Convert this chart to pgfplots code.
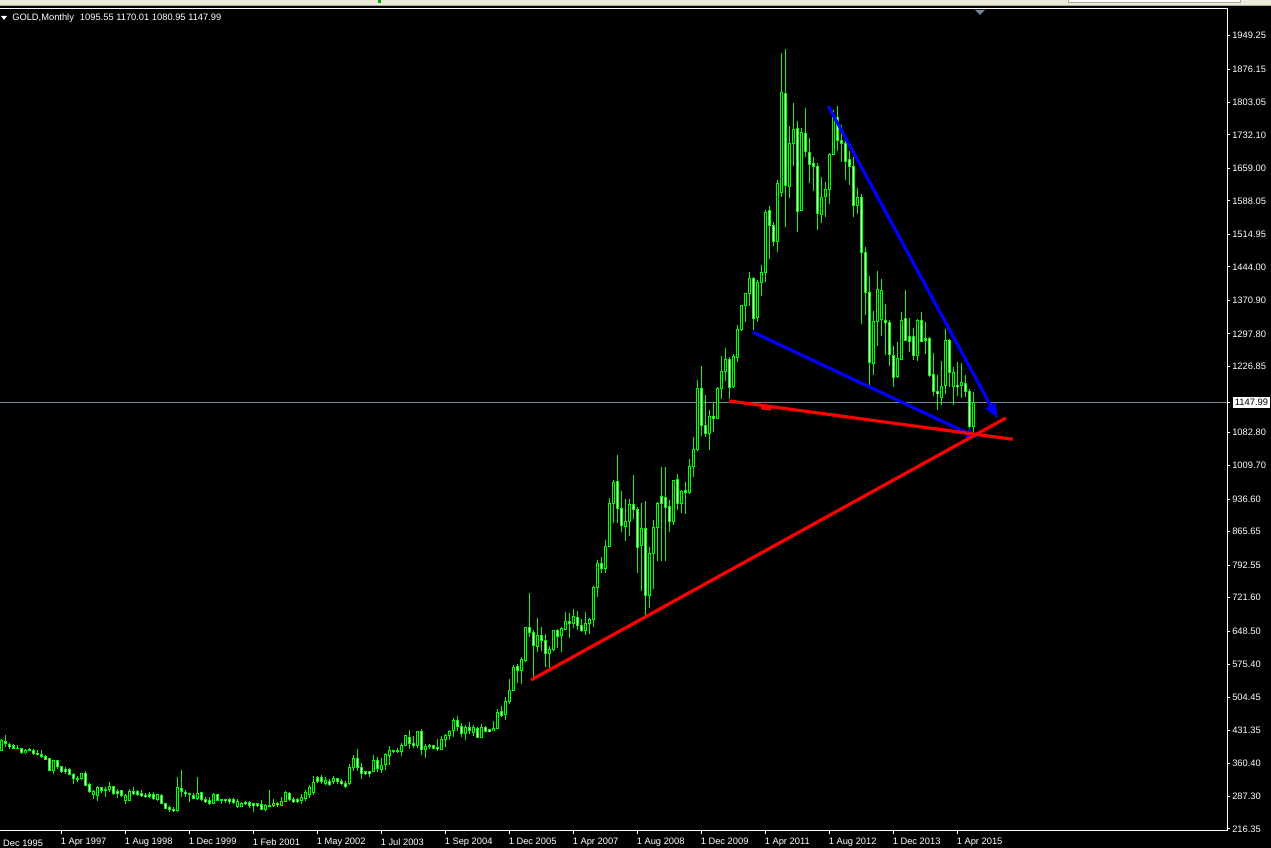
\documentclass[border=0pt]{standalone}
\usepackage{fontspec}
\setmainfont{Liberation Sans}
\usepackage{pgfplots}
\usepackage{pgfplotstable}
\pgfplotsset{compat=1.18}
\usetikzlibrary{arrows.meta}
\definecolor{Bar}{HTML}{00FF00}
\definecolor{Slate}{HTML}{778899}
\definecolor{Tool}{HTML}{ECE9D8}
\definecolor{ToolLine}{HTML}{ACA899}
\definecolor{Trend}{HTML}{FF0000}
\definecolor{Fall}{HTML}{0000FF}
% bar index, open, high, low, close
\pgfplotstableread{
x o h l c
0 388 413 388 409
1 408 422 396 403
2 401 405 391 396
3 398 401 391 393
4 393 400 391 392
5 392 393 381 383
6 383 391 381 388
7 389 393 386 388
8 388 391 379 381
9 382 389 377 379
10 380 388 371 374
11 374 377 367 369
12 371 371 344 345
13 345 366 337 365
14 365 367 347 352
15 352 355 338 341
16 347 351 337 341
17 347 350 334 335
18 336 338 315 326
19 326 331 319 326
20 326 339 323 338
21 337 343 310 312
22 314 317 296 298
23 291 302 281 299
24 289 310 278 306
25 306 309 294 300
26 303 307 286 301
27 302 319 297 310
28 310 310 291 294
29 299 303 284 294
30 301 302 287 289
31 278 293 271 289
32 278 303 278 299
33 299 308 291 293
34 298 302 288 292
35 294 302 286 289
36 290 296 283 287
37 291 297 283 288
38 291 297 280 282
39 280 293 278 291
40 289 292 270 271
41 272 273 259 262
42 264 267 254 259
43 260 265 254 256
44 256 330 254 308
45 304 345 286 298
46 297 301 287 293
47 294 294 275 293
48 290 294 281 284
49 284 330 280 294
50 295 297 277 280
51 281 286 274 276
52 278 286 269 272
53 273 295 271 292
54 291 293 277 278
55 280 281 272 280
56 281 282 274 278
57 280 284 271 276
58 280 283 272 275
59 266 281 262 277
60 265 276 264 273
61 275 278 268 271
62 275 278 262 267
63 271 272 254 268
64 271 272 264 267
65 270 280 258 260
66 258 271 256 267
67 267 302 264 268
68 267 281 265 273
69 273 275 265 269
70 267 286 267 277
71 277 299 275 297
72 294 297 278 280
73 281 286 273 276
74 281 284 273 276
75 278 293 271 286
76 282 301 277 295
77 291 312 284 306
78 297 332 291 317
79 329 331 316 321
80 329 334 315 319
81 316 329 313 323
82 319 326 310 313
83 319 331 315 327
84 326 327 315 319
85 320 325 312 315
86 316 321 306 309
87 315 358 312 351
88 350 377 344 371
89 371 391 344 350
90 351 361 326 337
91 341 342 334 337
92 341 342 330 337
93 342 377 341 366
94 366 373 341 348
95 347 371 339 355
96 357 382 345 378
97 377 397 356 388
98 388 389 383 386
99 387 393 383 385
100 385 404 376 399
101 398 421 398 420
102 417 433 391 404
103 404 420 393 398
104 398 430 393 430
105 430 435 378 390
106 389 401 372 397
107 398 403 392 396
108 398 400 391 393
109 395 413 387 392
110 391 420 390 412
111 412 423 396 421
112 420 433 411 430
113 431 458 417 454
114 454 463 431 440
115 441 447 418 425
116 425 444 411 439
117 438 450 424 431
118 428 444 419 437
119 436 439 416 417
120 417 446 416 438
121 438 441 428 429
122 433 433 428 429
123 431 452 430 436
124 436 478 435 471
125 472 484 460 465
126 467 505 454 495
127 494 545 490 519
128 519 574 518 570
129 572 577 535 562
130 562 592 533 586
131 584 658 582 657
132 657 732 636 645
133 646 650 545 617
134 615 677 603 638
135 638 658 604 628
136 628 642 570 599
137 599 615 565 609
138 608 651 606 650
139 650 653 612 636
140 639 658 603 655
141 653 690 651 670
142 670 689 634 665
143 666 697 655 681
144 678 693 651 660
145 661 676 647 650
146 650 690 641 666
147 665 678 642 674
148 674 746 658 744
149 744 804 722 797
150 796 810 775 785
151 785 848 775 833
152 833 939 833 928
153 928 979 885 973
154 975 1033 884 917
155 917 955 864 879
156 877 937 846 888
157 888 936 857 925
158 925 989 894 914
159 914 920 775 832
160 835 928 737 873
161 873 933 682 726
162 727 832 700 818
163 818 891 741 875
164 875 930 802 928
165 943 1007 802 927
166 941 1007 802 919
167 921 935 866 888
168 888 979 880 978
169 979 992 913 928
170 927 957 906 954
171 956 975 905 951
172 951 1024 947 1008
173 1008 1072 986 1046
174 1046 1197 1041 1179
175 1179 1228 1075 1098
176 1098 1164 1072 1080
177 1080 1131 1045 1118
178 1118 1147 1084 1113
179 1113 1182 1111 1179
180 1179 1249 1156 1215
181 1215 1267 1195 1242
182 1242 1248 1156 1180
183 1182 1253 1180 1249
184 1247 1316 1236 1308
185 1308 1361 1304 1360
186 1359 1387 1324 1386
187 1386 1433 1359 1419
188 1418 1421 1306 1332
189 1333 1415 1324 1410
190 1410 1448 1380 1432
191 1431 1568 1412 1563
192 1568 1577 1461 1534
193 1535 1541 1490 1499
194 1499 1634 1477 1626
195 1606 1911 1597 1825
196 1823 1920 1532 1621
197 1619 1752 1595 1714
198 1714 1801 1664 1744
199 1747 1763 1521 1565
200 1568 1747 1567 1738
201 1736 1790 1685 1696
202 1693 1726 1627 1667
203 1670 1684 1610 1663
204 1664 1671 1525 1560
205 1558 1640 1539 1596
206 1597 1629 1554 1613
207 1613 1692 1581 1690
208 1689 1787 1688 1771
209 1771 1795 1697 1720
210 1720 1754 1672 1713
211 1714 1718 1634 1674
212 1679 1696 1623 1663
213 1664 1684 1553 1578
214 1578 1616 1560 1596
215 1596 1603 1319 1475
216 1475 1488 1338 1388
217 1388 1424 1185 1235
218 1233 1348 1208 1325
219 1324 1435 1271 1395
220 1330 1418 1292 1393
221 1327 1363 1252 1322
222 1323 1328 1228 1252
223 1250 1271 1182 1203
224 1204 1279 1202 1244
225 1241 1346 1241 1327
226 1332 1394 1282 1284
227 1292 1332 1259 1282
228 1292 1310 1241 1250
229 1250 1330 1239 1327
230 1327 1346 1281 1282
231 1288 1323 1253 1283
232 1288 1290 1204 1207
233 1209 1255 1161 1172
234 1172 1208 1132 1167
235 1158 1239 1142 1183
236 1185 1308 1166 1284
237 1284 1286 1181 1213
238 1182 1226 1142 1214
239 1186 1237 1161 1182
240 1185 1235 1157 1192
241 1190 1208 1159 1172
242 1172 1177 1091 1095
243 1095.55 1170.01 1080.95 1147.99
}\gold
\pgfplotsset{
  bars/.style 2 args={draw=none,mark=none,forget plot,
    error bars/y dir=both,error bars/y explicit,error bars/error mark=none,
    error bars/error bar style={line width=#1,color=#2}},
}
\begin{document}
\begin{tikzpicture}
% 1 px of the screenshot = 0.75pt
\useasboundingbox (0,0) rectangle (953.25pt,636pt);
\fill[black] (0,0) rectangle (953.25pt,636pt);
\fill[Tool] (0,632.25pt) rectangle (953.25pt,636pt);
\fill[ToolLine] (0,631.5pt) rectangle (953.25pt,632.25pt);
\fill[Bar!70!black] (283.5pt,633.75pt) rectangle (286pt,636pt);
\fill[white] (801pt,634pt) rectangle (930pt,636pt);
\draw[ToolLine,line width=.5pt] (801pt,636pt) -- (801pt,634pt) -- (930pt,634pt) -- (930pt,636pt);
\begin{axis}[
  at={(-1.5pt,12.75pt)},anchor=south west,
  scale only axis,width=921.75pt,height=616.5pt,
  xmin=-0.875,xmax=306.375,ymin=211.98,ymax=2007.23,
  axis line style={white,line width=.75pt},
  tick style={white,line width=.75pt},
  major tick length=2.25pt,tick align=outside,
  xtick pos=bottom,ytick pos=right,yticklabel pos=right,
  ticklabel style={font=\fontsize{7}{8}\selectfont,text=white},
  xtick={15,31,47,63,79,95,111,127,143,159,175,191,207,223,239},
  xticklabels={1 Apr 1997,1 Aug 1998,1 Dec 1999,1 Feb 2001,1 May 2002,1 Jul 2003,1 Sep 2004,1 Dec 2005,1 Apr 2007,1 Aug 2008,1 Dec 2009,1 Apr 2011,1 Aug 2012,1 Dec 2013,1 Apr 2015},
  xticklabel style={anchor=north west,inner sep=0pt,xshift=-.75pt,yshift=-3pt},
  extra x ticks={0},extra x tick labels={Dec 1995},
  extra x tick style={major tick length=0pt,xticklabel style={anchor=north west,inner sep=0pt,xshift=1.75pt,yshift=-3.75pt}},
  ytick={216.35,287.30,360.40,431.35,504.45,575.40,648.50,721.60,792.55,865.65,936.60,1009.70,1082.80,1226.85,1297.80,1370.90,1444.00,1514.95,1588.05,1659.00,1732.10,1803.05,1876.15,1949.25},
  yticklabels={216.35,287.30,360.40,431.35,504.45,575.40,648.50,721.60,792.55,865.65,936.60,1009.70,1082.80,1226.85,1297.80,1370.90,1444.00,1514.95,1588.05,1659.00,1732.10,1803.05,1876.15,1949.25},
  yticklabel style={anchor=west,inner sep=0pt,xshift=1.5pt},
  extra y ticks={1147.99},extra y tick labels={1147.99},
  extra y tick style={yticklabel style={anchor=west,fill=white,text=black,inner xsep=1.5pt,inner ysep=1.4pt,xshift=.5pt}},
]
% last price line
\addplot[Slate,line width=.75pt,forget plot] coordinates {(-0.875,1147.99)(306.375,1147.99)};
% wicks
\addplot[bars={.75pt}{Bar}] table[x=x,y expr={0.5*(\thisrow{h}+\thisrow{l})},
  y error plus expr={0.5*(\thisrow{h}-\thisrow{l})},y error minus expr={0.5*(\thisrow{h}-\thisrow{l})}] {\gold};
% body outlines
\addplot[bars={2.25pt}{Bar}] table[x=x,y expr={0.5*(\thisrow{o}+\thisrow{c})},
  y error plus expr={0.5*abs(\thisrow{c}-\thisrow{o})+1.1},y error minus expr={0.5*abs(\thisrow{c}-\thisrow{o})+1.1}] {\gold};
% rising bodies are hollow, falling ones white
\addplot[bars={.75pt}{black},restrict expr to domain={\thisrow{c}-\thisrow{o}}{0:100000}] table[x=x,y expr={0.5*(\thisrow{o}+\thisrow{c})},
  y error plus expr={max(0.5*abs(\thisrow{c}-\thisrow{o})-1.1,0)},y error minus expr={max(0.5*abs(\thisrow{c}-\thisrow{o})-1.1,0)}] {\gold};
\addplot[bars={.75pt}{white},restrict expr to domain={\thisrow{c}-\thisrow{o}}{-100000:-0.001}] table[x=x,y expr={0.5*(\thisrow{o}+\thisrow{c})},
  y error plus expr={max(0.5*abs(\thisrow{c}-\thisrow{o})-1.1,0)},y error minus expr={max(0.5*abs(\thisrow{c}-\thisrow{o})-1.1,0)}] {\gold};
% trend lines
\addplot[Fall,line width=2.4pt,-{Triangle[length=10.5pt,width=8.5pt]}] coordinates {(206.7,1795.4)(248.95,1114)};
\addplot[Fall,line width=2.4pt,-{Triangle[length=9pt,width=7pt]}] coordinates {(187.95,1301.1)(244.1,1070.3)};
\addplot[Trend,line width=2.4pt] coordinates {(132.4,541.8)(251.1,1114)};
\addplot[Trend,line width=2.4pt] coordinates {(181.95,1151.1)(252.8,1067.5)};
\addplot[Trend,line width=2.6pt] coordinates {(189.9,1136.5)(192.4,1134)};
\end{axis}
% chart header and the shift marker
\fill[white] (.75pt,624pt) -- (5.25pt,624pt) -- (3pt,621pt) -- cycle;
\node[anchor=base west,inner sep=0pt,white,font=\fontsize{7}{8}\selectfont] at (9pt,620.25pt)
  {GOLD,Monthly\hspace{4.5pt}1095.55 1170.01 1080.95 1147.99};
\fill[Slate] (731.25pt,628.5pt) -- (738.75pt,628.5pt) -- (735pt,624.75pt) -- cycle;
\end{tikzpicture}
\end{document}
